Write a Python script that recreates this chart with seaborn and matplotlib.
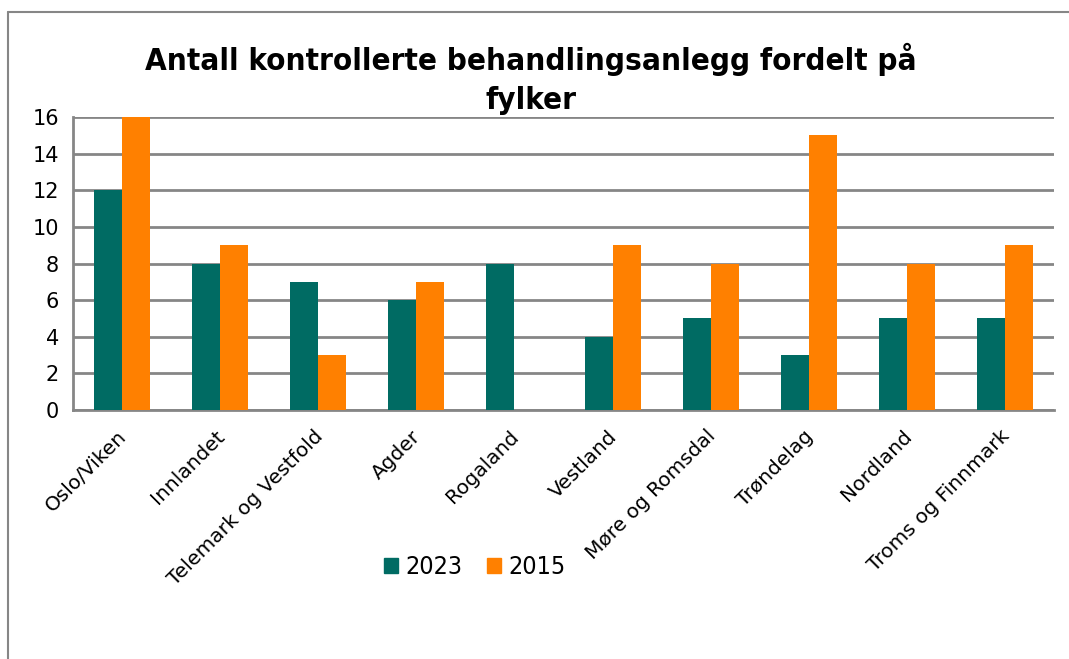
import matplotlib
matplotlib.use("Agg")
import matplotlib.pyplot as plt
from matplotlib.lines import Line2D
import matplotlib.transforms as mtransforms
import seaborn as sns
import pandas as pd

categories = ["Oslo/Viken", "Innlandet", "Telemark og Vestfold", "Agder", "Rogaland",
              "Vestland", "Møre og Romsdal", "Trøndelag", "Nordland", "Troms og Finnmark"]
values_2023 = [12, 8, 7, 6, 8, 4, 5, 3, 5, 5]
values_2015 = [16, 9, 3, 7, 0, 9, 8, 15, 8, 9]
series = ["2023", "2015"]
yticks = [0, 2, 4, 6, 8, 10, 12, 14, 16]

df = pd.DataFrame({
    "fylke": categories * 2,
    "antall": values_2023 + values_2015,
    "år": [series[0]] * len(categories) + [series[1]] * len(categories),
})

sns.set_theme(style="white")
plt.rcParams['font.family'] = ['DejaVu Sans']
plt.rcParams['text.color'] = 'black'
plt.rcParams['xtick.color'] = 'black'
plt.rcParams['ytick.color'] = 'black'

W, H = 1069, 659
fig = plt.figure(figsize=(W / 100, H / 100), dpi=100)
ax = fig.add_axes([73 / W, 1 - 410 / H, (1054 - 73) / W, (410 - 117) / H])

gray = "#868686"
sns.barplot(data=df, x="fylke", y="antall", hue="år", hue_order=series,
            palette=["#006B63", "#FF8000"], width=0.57, saturation=1,
            ax=ax, zorder=3, legend=False, linewidth=0)

ax.set_ylim(0, 16)
ax.set_xlim(-0.5, len(categories) - 0.5)
ax.set_yticks(yticks)
ax.set_yticklabels([str(t) for t in yticks], fontsize=15)
ax.yaxis.grid(True, color=gray, linewidth=2, zorder=0)
ax.set_axisbelow(True)
ax.set_xlabel("")
ax.set_ylabel("")

ax.set_xticks(range(len(categories)))
ax.set_xticklabels(categories, rotation=45, ha="right", rotation_mode="anchor", fontsize=14.5)
ax.tick_params(axis="x", length=0, pad=12)
shift = mtransforms.ScaledTranslation(-5 / 100, 0, fig.dpi_scale_trans)
for lab in ax.get_xticklabels():
    lab.set_transform(lab.get_transform() + shift)

ax.set_xticks([i - 0.5 for i in range(len(categories) + 1)], minor=True)
ax.tick_params(axis="x", which="minor", length=6, width=1.5, color=gray, direction="out")
ax.tick_params(axis="y", length=6, width=1.5, color=gray, labelcolor="black", direction="out", pad=4)

for s in ["top", "right"]:
    ax.spines[s].set_visible(False)
for s in ["left", "bottom"]:
    ax.spines[s].set_color(gray)
    ax.spines[s].set_linewidth(2)

fig.text(531 / W, 1 - 79 / H, "Antall kontrollerte behandlingsanlegg fordelt på\nfylker",
         ha="center", va="center", fontsize=22.5, fontweight="bold", fontstretch="condensed",
         linespacing=1.4, color="black")

handles = [plt.Rectangle((0, 0), 1, 1, color="#006B63"), plt.Rectangle((0, 0), 1, 1, color="#FF8000")]
fig.legend(handles, series, loc="center", bbox_to_anchor=(475 / W, 1 - 567 / H), ncol=2,
           frameon=False, prop={"size": 18, "stretch": "condensed"},
           handlelength=0.56, handleheight=0.56, handletextpad=0.3, columnspacing=1.0)

fig.add_artist(Line2D([8 / W, 1.0], [1 - 12 / H, 1 - 12 / H], color=gray, linewidth=1.5,
                      transform=fig.transFigure))
fig.add_artist(Line2D([8 / W, 8 / W], [1 - 12 / H, 0.0], color=gray, linewidth=1.5,
                      transform=fig.transFigure))

fig.savefig("out.png", dpi=100, facecolor="white")
